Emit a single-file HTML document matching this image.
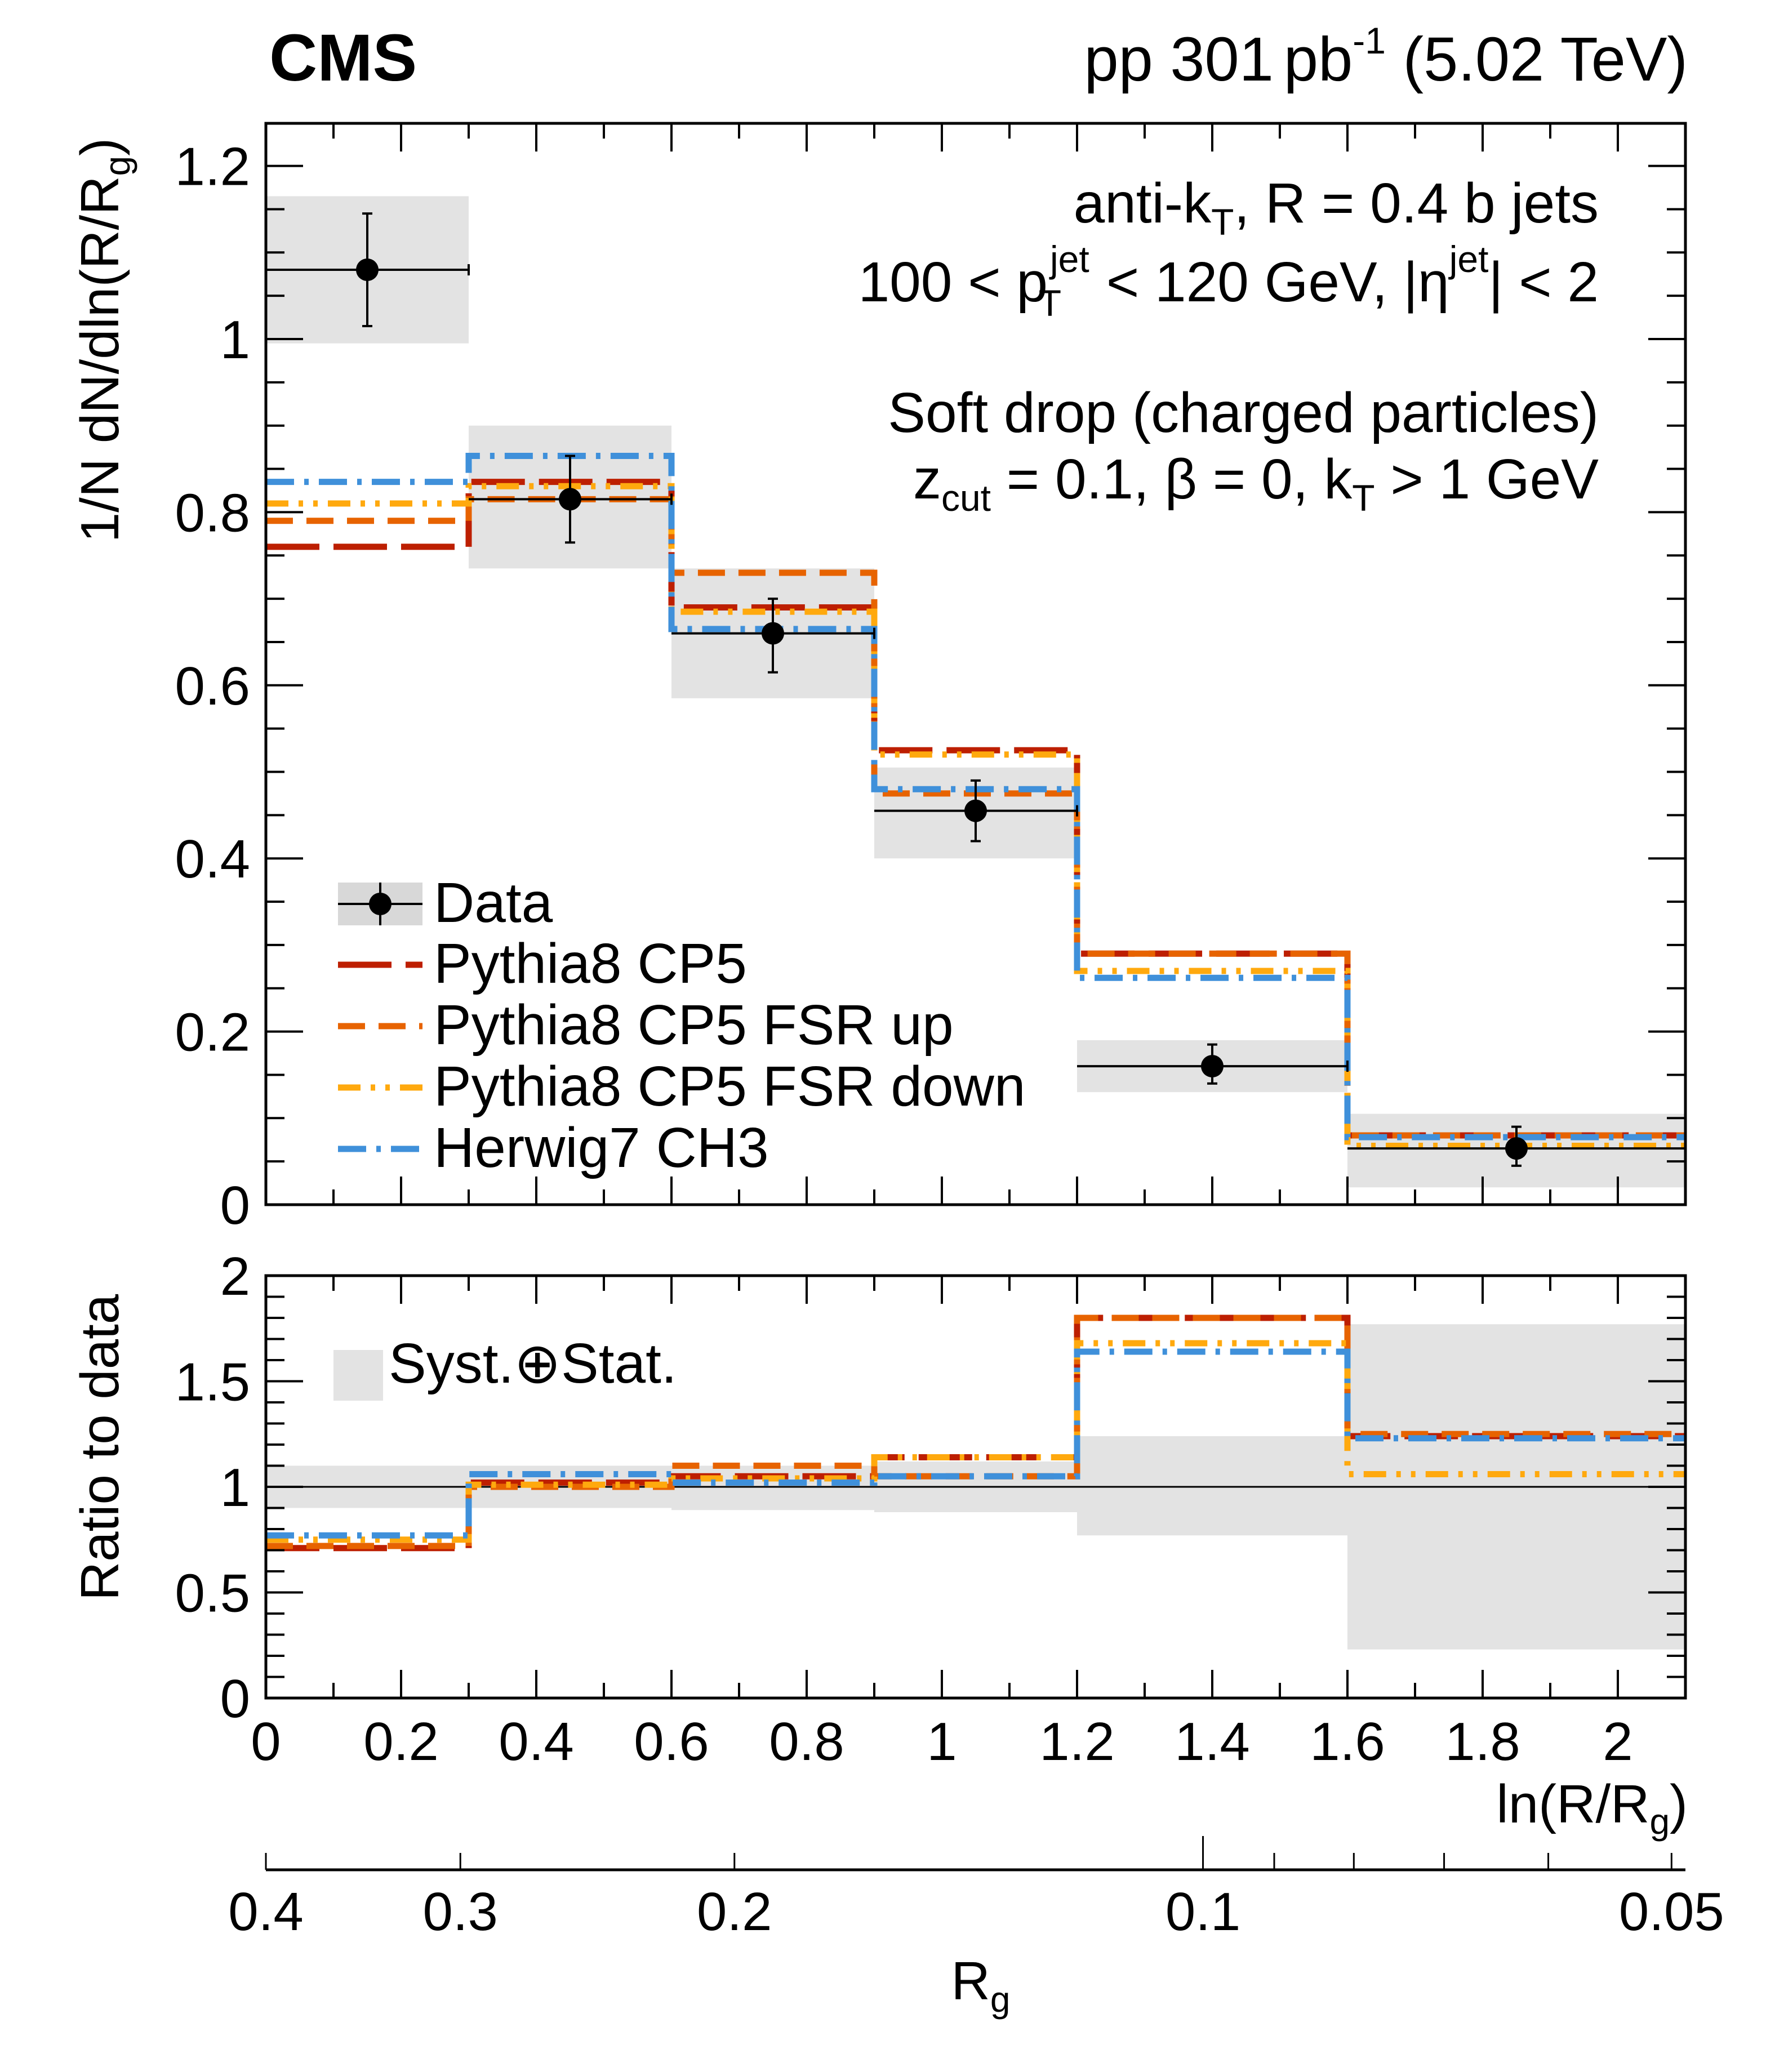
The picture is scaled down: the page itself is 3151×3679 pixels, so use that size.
<!DOCTYPE html>
<html><head><meta charset="utf-8"><style>
html,body{margin:0;padding:0;background:#fff}
svg{display:block}
text{font-family:"Liberation Sans",sans-serif;fill:#000}
</style></head><body>
<svg id="chart" width="3151" height="3679" viewBox="0 0 3151 3679" xmlns="http://www.w3.org/2000/svg">
<g id="g"></g>
<text x="478" y="143" font-size="118" font-weight="bold">CMS</text>
<text x="2996" y="143" font-size="110" text-anchor="end">pp 301<tspan dx="18">pb</tspan><tspan dy="-48" font-size="66">-1</tspan><tspan dy="48"> (5.02 TeV)</tspan></text>
<g font-size="100" text-anchor="end">
<text x="2838" y="395">anti-k<tspan font-size="66" dy="22">T</tspan><tspan dy="-22">, R = 0.4 b jets</tspan></text>
<text x="2838" y="535">100 &lt; p<tspan font-size="66" dx="4" dy="-52">jet</tspan><tspan font-size="66" dx="-90" dy="78">T</tspan><tspan dx="52" dy="-26"> &lt; 120 GeV, |η</tspan><tspan font-size="66" dy="-52">jet</tspan><tspan dy="52">| &lt; 2</tspan></text>
<text x="2838" y="767">Soft drop (charged particles)</text>
<text x="2838" y="885">z<tspan font-size="66" dy="22">cut</tspan><tspan dy="-22"> = 0.1, β = 0, k</tspan><tspan font-size="66" dy="22">T</tspan><tspan dy="-22"> &gt; 1 GeV</tspan></text>
</g>
<text transform="translate(210,604) rotate(-90)" font-size="96" text-anchor="middle">1/N dN/dln(R/R<tspan font-size="64" dy="20">g</tspan><tspan dy="-20">)</tspan></text>
<text transform="translate(210,2570) rotate(-90)" font-size="96" text-anchor="middle">Ratio to data</text>
<text x="2996" y="3236" font-size="96" text-anchor="end">ln(R/R<tspan font-size="64" dy="20">g</tspan><tspan dy="-20">)</tspan></text>
<text x="1741" y="3550" font-size="96" text-anchor="middle">R<tspan font-size="64" dy="22">g</tspan></text>
</svg>
<script>
const edges=[0,0.3,0.6,0.9,1.2,1.6,2.1];
const dataX=[0.15,0.45,0.75,1.05,1.4,1.85];
const dataY=[1.08,0.815,0.66,0.455,0.16,0.065];
const statLo=[1.015,0.765,0.615,0.42,0.14,0.045];
const statHi=[1.145,0.865,0.70,0.49,0.185,0.09];
const systLo=[0.995,0.735,0.585,0.40,0.13,0.02];
const systHi=[1.165,0.90,0.735,0.505,0.19,0.105];
const cp5=[0.76,0.835,0.69,0.525,0.29,0.08];
const fsrUp=[0.79,0.815,0.73,0.475,0.29,0.08];
const fsrDown=[0.81,0.83,0.685,0.52,0.27,0.068];
const herwig=[0.835,0.865,0.665,0.48,0.262,0.078];
const rCp5=[0.71,1.02,1.05,1.14,1.80,1.24];
const rFsrUp=[0.72,1.0,1.10,1.05,1.80,1.25];
const rFsrDown=[0.75,1.01,1.04,1.14,1.68,1.06];
const rHerwig=[0.77,1.06,1.02,1.05,1.64,1.23];
const rBandLo=[0.90,0.90,0.89,0.88,0.77,0.23];
const rBandHi=[1.10,1.10,1.10,1.12,1.24,1.77];
const yTicks=[0,0.2,0.4,0.6,0.8,1,1.2];
const rTicks=[0,0.5,1,1.5,2];
const xTicks=[0,0.2,0.4,0.6,0.8,1,1.2,1.4,1.6,1.8,2];
const rgLabels=[0.4,0.3,0.2,0.1,0.05];

const NS="http://www.w3.org/2000/svg";
const g=document.getElementById('g');
const L=472,R=2992,T1=219,B1=2139,T2=2265,B2=3015;
const X=v=>L+v*1200;
const Y=v=>B1-v*1537;
const YR=v=>B2-v*375;
function el(tag,a,parent){const e=document.createElementNS(NS,tag);for(const k in a)e.setAttribute(k,a[k]);(parent||g).appendChild(e);return e;}
const styles=[
 {d:cp5,r:rCp5,c:'#bd1f01',dash:'95,25',name:'pythia8-cp5'},
 {d:fsrUp,r:rFsrUp,c:'#e76300',dash:'48,24',name:'pythia8-fsr-up'},
 {d:fsrDown,r:rFsrDown,c:'#ffa90e',dash:'40,18,8,18,8,18',name:'pythia8-fsr-down'},
 {d:herwig,r:rHerwig,c:'#3f90da',dash:'50,18,8,18',name:'herwig7-ch3'}];
for(let i=0;i<6;i++){
 let b=el('rect',{x:X(edges[i]),y:Y(systHi[i]),width:X(edges[i+1])-X(edges[i]),height:Y(systLo[i])-Y(systHi[i]),fill:'#e3e3e3'});
 
 
 let rb=el('rect',{x:X(edges[i]),y:YR(rBandHi[i]),width:X(edges[i+1])-X(edges[i]),height:YR(rBandLo[i])-YR(rBandHi[i]),fill:'#e3e3e3'});
 
 
}
el('line',{x1:L,x2:R,y1:YR(1),y2:YR(1),stroke:'#000','stroke-width':3});
function hist(vals,yf,s){
 let p='M'+X(edges[0])+','+yf(vals[0]);
 for(let i=0;i<vals.length;i++){ if(i>0)p+=' L'+X(edges[i])+','+yf(vals[i]); p+=' L'+X(edges[i+1])+','+yf(vals[i]);}
 return el('path',{d:p,fill:'none',stroke:s.c,'stroke-width':11,'stroke-dasharray':s.dash});
}
styles.forEach(s=>{
 let h=hist(s.d,Y,s);
 
 
 let r=hist(s.r,YR,s);
 
 
});
for(let i=0;i<6;i++){
 el('line',{x1:X(edges[i]),x2:X(edges[i+1]),y1:Y(dataY[i]),y2:Y(dataY[i]),stroke:'#000','stroke-width':4});
 el('line',{x1:X(edges[i+1]),x2:X(edges[i+1]),y1:Y(dataY[i])-10,y2:Y(dataY[i])+10,stroke:'#000','stroke-width':4});
 el('line',{x1:X(dataX[i]),x2:X(dataX[i]),y1:Y(statHi[i]),y2:Y(statLo[i]),stroke:'#000','stroke-width':4});
 el('line',{x1:X(dataX[i])-9,x2:X(dataX[i])+9,y1:Y(statHi[i]),y2:Y(statHi[i]),stroke:'#000','stroke-width':4});
 el('line',{x1:X(dataX[i])-9,x2:X(dataX[i])+9,y1:Y(statLo[i]),y2:Y(statLo[i]),stroke:'#000','stroke-width':4});
 let c=el('circle',{cx:X(dataX[i]),cy:Y(dataY[i]),r:20,fill:'#000'});
 
 
}
[[T1,B1],[T2,B2]].forEach(([t,b])=>{el('rect',{x:L,y:t,width:R-L,height:b-t,fill:'none',stroke:'#000','stroke-width':5});});
for(let v=0;v<=2.1001;v+=0.1){
 const maj=xTicks.some(t=>Math.abs(t-v)<1e-6);const len=maj?50:27;const x=X(v);
 [[T1,1],[B1,-1],[T2,1],[B2,-1]].forEach(([y,d])=>el('line',{x1:x,x2:x,y1:y,y2:y+d*len,stroke:'#000','stroke-width':4}));
}
xTicks.forEach(v=>{const t=el('text',{x:X(v),y:3125,'font-size':96,'text-anchor':'middle'});t.textContent=String(v);
 
 });
for(let v=0;v<=1.25;v+=0.05){const maj=yTicks.some(t=>Math.abs(t-v)<1e-6);const len=maj?66:33;const y=Y(v);
 el('line',{x1:L,x2:L+len,y1:y,y2:y,stroke:'#000','stroke-width':4});el('line',{x1:R,x2:R-len,y1:y,y2:y,stroke:'#000','stroke-width':4});}
yTicks.forEach(v=>{const t=el('text',{x:L-28,y:Y(v)+34,'font-size':96,'text-anchor':'end'});t.textContent=String(v);
 
 });
for(let v=0;v<=2.001;v+=0.1){const maj=rTicks.some(t=>Math.abs(t-v)<1e-6);const len=maj?66:33;const y=YR(v);
 el('line',{x1:L,x2:L+len,y1:y,y2:y,stroke:'#000','stroke-width':4});el('line',{x1:R,x2:R-len,y1:y,y2:y,stroke:'#000','stroke-width':4});}
rTicks.forEach(v=>{const t=el('text',{x:L-28,y:YR(v)+34,'font-size':96,'text-anchor':'end'});t.textContent=String(v);
 
 });
const AY=3320,XR=v=>X(Math.log(0.4/v));
el('line',{x1:L,x2:R,y1:AY,y2:AY,stroke:'#000','stroke-width':5});
[0.4,0.3,0.2,0.09,0.08,0.07,0.06,0.05].forEach(v=>el('line',{x1:XR(v),x2:XR(v),y1:AY,y2:AY-30,stroke:'#000','stroke-width':3}));
el('line',{x1:XR(0.1),x2:XR(0.1),y1:AY,y2:AY-60,stroke:'#000','stroke-width':3});
rgLabels.forEach(v=>{const t=el('text',{x:XR(v),y:3427,'font-size':96,'text-anchor':'middle'});t.textContent=String(v);
 
 });
const ly=[1605,1713,1822,1931,2040];
const lg=el('g',{});


el('rect',{x:600,y:ly[0]-38,width:150,height:76,fill:'#d8d8d8'},lg);
el('line',{x1:600,x2:750,y1:ly[0],y2:ly[0],stroke:'#000','stroke-width':4},lg);
el('line',{x1:675,x2:675,y1:ly[0]-38,y2:ly[0]+38,stroke:'#000','stroke-width':4},lg);
el('circle',{cx:675,cy:ly[0],r:20,fill:'#000'},lg);
const names=['Data','Pythia8 CP5','Pythia8 CP5 FSR up','Pythia8 CP5 FSR down','Herwig7 CH3'];
styles.forEach((s,i)=>el('line',{x1:600,x2:750,y1:ly[i+1],y2:ly[i+1],stroke:s.c,'stroke-width':11,'stroke-dasharray':s.dash},lg));
names.forEach((n,i)=>{const t=el('text',{x:770,y:ly[i]+32,'font-size':100},lg);t.textContent=n;
 
 });
el('rect',{x:592,y:2397,width:88,height:90,fill:'#e3e3e3'});
const st=el('text',{x:690,y:2455,'font-size':100});st.textContent='Syst.⊕Stat.';


</script>
</body></html>
